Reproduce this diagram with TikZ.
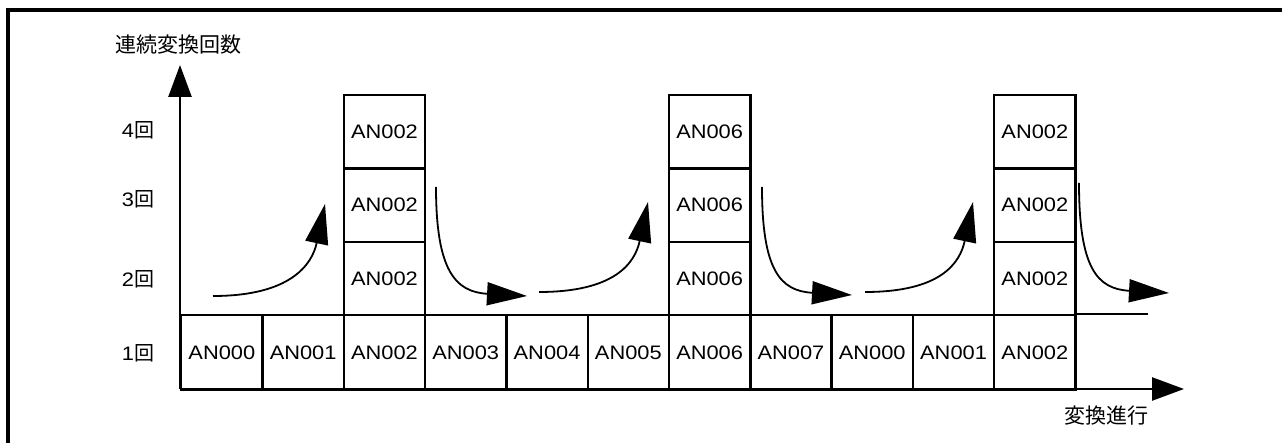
\documentclass[tikz,border=0pt]{standalone}
\usepackage{fontspec}
\setmainfont{Liberation Sans}[FakeStretch=1.12]
\newfontfamily\jp{Noto Sans CJK JP}
\usetikzlibrary{arrows.meta}
\newcommand\kaiji{{\jp\fontsize{20}{20}\selectfont 回}}
\begin{document}
\begin{tikzpicture}[x=1pt,y=-1pt,
  cell/.style={draw, line width=2.4pt, minimum width=81.3pt, minimum height=73.4pt,
    inner sep=0pt, anchor=north west, font=\fontsize{19.5}{19.5}\selectfont},
  cellb/.style={cell, minimum height=75pt},
  axis/.style={line width=2.6pt, -{Triangle[length=32pt,width=23pt]}},
  flow/.style={line width=1.8pt, -{Triangle[length=40pt,width=23pt]}},
  lvl/.style={font=\fontsize{19.5}{19.5}\selectfont, inner sep=0pt},
  jplab/.style={font=\jp\fontsize{21}{21}\selectfont, inner sep=0pt}]
\useasboundingbox (0,0) rectangle (1282,443);
% frame
\coordinate (fbl) at (8,443);
\coordinate (ftl) at (8,10);
\coordinate (ftr) at (1282,10);
\draw[line width=3.2pt] (fbl) -- (ftl) -- (ftr);
% bottom row
\foreach \i/\t in {0/AN000,1/AN001,2/AN002,3/AN003,4/AN004,5/AN005,6/AN006,7/AN007,8/AN000,9/AN001,10/AN002}
  \node[cellb] (b\i) at ({180+81.3*\i},314) {\t};
% stacks
\foreach \c/\t in {2/AN002,6/AN006,10/AN002}{
  \node[cell] (s\c a) at ({180+81.3*\c},240.6) {\t};
  \node[cell] (s\c b) at ({180+81.3*\c},167.3) {\t};
  \node[cell] (s\c c) at ({180+81.3*\c},94) {\t};
}
% extension line
\coordinate (ext) at (1148,314);
\draw[line width=2.4pt] (b10.north east) -- (ext);
% axes
\coordinate (O) at (180,389);
\coordinate (ytip) at (180,65);
\coordinate (xtip) at (1184,389);
\draw[axis] (O) -- (ytip);
\draw[axis] (O) -- (xtip);
% labels
\node[jplab] (ylab) at (178,45) {連続変換回数};
\node[jplab] (xlab) at (1106,416) {変換進行};
\node[lvl] (l4) at (138,130) {4\kaiji};
\node[lvl] (l3) at (138,199) {3\kaiji};
\node[lvl] (l2) at (138,279) {2\kaiji};
\node[lvl] (l1) at (138,353) {1\kaiji};
% up arrows
\coordinate (u1s) at (213,296); \coordinate (u1e) at (325,204);
\coordinate (u2s) at (539,292); \coordinate (u2e) at (648,202);
\coordinate (u3s) at (865,292); \coordinate (u3e) at (973,202);
\draw[flow] (u1s) .. controls ++(77,0) and ++(-13,61) .. (u1e);
\draw[flow] (u2s) .. controls ++(76,0) and ++(-13,61) .. (u2e);
\draw[flow] (u3s) .. controls ++(76,0) and ++(-13,61) .. (u3e);
% down arrows
\coordinate (d1s) at (436,187); \coordinate (d1e) at (527,296);
\coordinate (d2s) at (762,187); \coordinate (d2e) at (852,295);
\coordinate (d3s) at (1079,183); \coordinate (d3e) at (1169,293);
\draw[flow] (d1s) .. controls ++(0,83) and ++(-72,-4) .. (d1e);
\draw[flow] (d2s) .. controls ++(0,83) and ++(-72,-4) .. (d2e);
\draw[flow] (d3s) .. controls ++(0,85) and ++(-72,-4) .. (d3e);
\end{tikzpicture}
\end{document}
